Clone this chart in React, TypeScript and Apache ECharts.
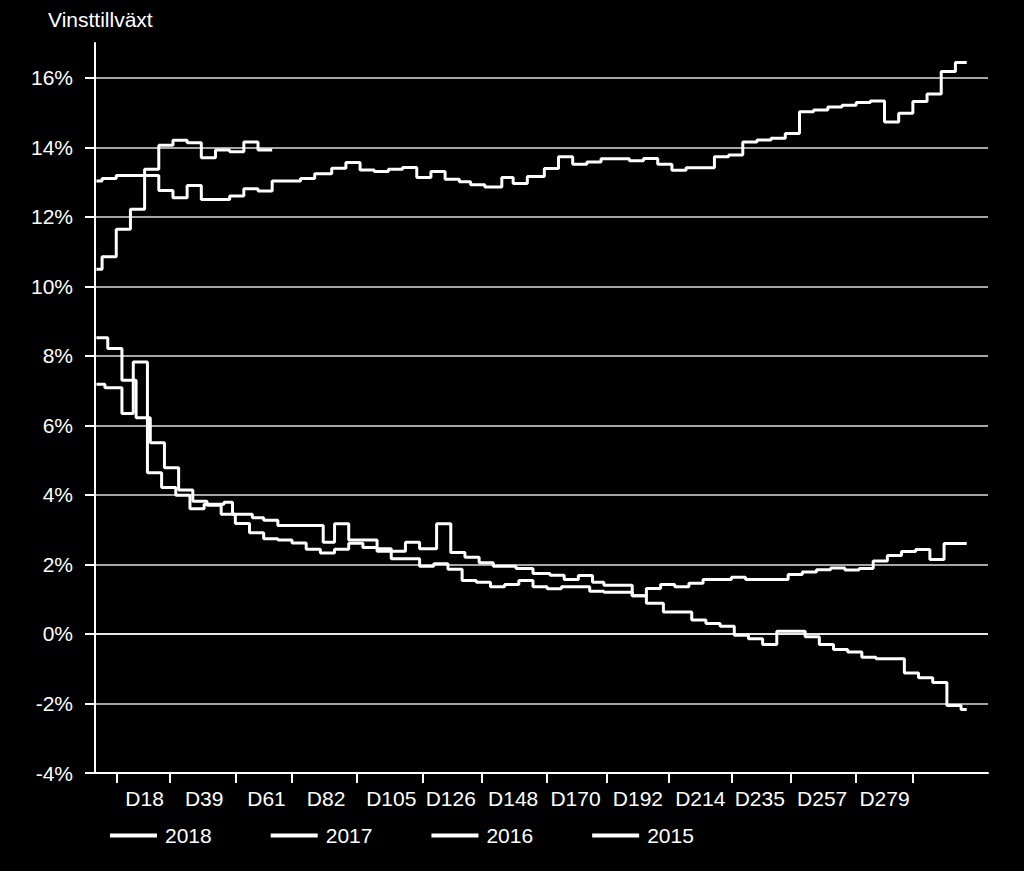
import React, { useEffect, useRef } from "react";
import * as echarts from "echarts";

const FONT = "'Liberation Sans', Arial, sans-serif";

// Category axis: trading days D1..D315
const categories: string[] = Array.from({ length: 315 }, (_, i) => `D${i + 1}`);
// indices of categories whose label is shown (D18, D39, ...)
const labelIndices = [17, 38, 60, 81, 104, 125, 147, 169, 191, 213, 234, 256, 278];
// indices of categories carrying a tick mark
const tickIndices = [7, 26, 49, 69, 92, 115, 136, 159, 180, 202, 224, 245, 268, 288];
const yTicks = [-4, -2, 0, 2, 4, 6, 8, 10, 12, 14, 16];

const legendNames = ["2018", "2017", "2016", "2015"];

// [day index, value %] at each change point (step data)
const s2018: [number, number][] = [
  [0, 10.49], [2, 10.85], [7, 11.64], [12, 12.22], [17, 13.37], [22, 14.06], [27, 14.2],
  [32, 14.13], [37, 13.7], [42, 13.92], [47, 13.87], [52, 14.15], [57, 13.92], [62, 13.92],
];

const s2017: [number, number][] = [
  [0, 13.03], [2, 13.1], [7, 13.19], [22, 12.76], [27, 12.55], [32, 12.9], [37, 12.5],
  [47, 12.6], [52, 12.81], [57, 12.74], [62, 13.03], [72, 13.1], [77, 13.24], [83, 13.4],
  [88, 13.56], [93, 13.35], [98, 13.3], [103, 13.37], [108, 13.42], [113, 13.13], [118, 13.3],
  [123, 13.08], [128, 13.01], [132, 12.92], [137, 12.86], [143, 13.13], [147, 12.96],
  [152, 13.16], [158, 13.39], [163, 13.73], [168, 13.51], [173, 13.58], [178, 13.67],
  [188, 13.61], [193, 13.68], [198, 13.51], [203, 13.34], [208, 13.41], [218, 13.73],
  [223, 13.78], [228, 14.15], [233, 14.21], [238, 14.26], [243, 14.4], [248, 15.02],
  [253, 15.07], [258, 15.16], [263, 15.21], [268, 15.29], [273, 15.33], [278, 14.73],
  [283, 14.98], [288, 15.32], [293, 15.53], [298, 16.18], [303, 16.44], [307, 16.44],
];

const s2016: [number, number][] = [
  [0, 8.52], [4, 8.21], [9, 7.3], [14, 6.22], [19, 5.5], [24, 4.78], [29, 4.14], [34, 3.82],
  [39, 3.7], [44, 3.44], [49, 3.18], [54, 2.91], [59, 2.74], [64, 2.7], [69, 2.62], [74, 2.44],
  [79, 2.33], [84, 2.44], [89, 2.61], [94, 2.49], [99, 2.38], [104, 2.16], [114, 1.95],
  [119, 2.02], [124, 1.86], [129, 1.54], [134, 1.49], [139, 1.36], [144, 1.42], [149, 1.54],
  [154, 1.36], [159, 1.3], [164, 1.36], [174, 1.23], [179, 1.2], [189, 1.1], [194, 1.31],
  [199, 1.42], [204, 1.36], [209, 1.46], [214, 1.57], [224, 1.63], [229, 1.57], [244, 1.71],
  [249, 1.78], [254, 1.85], [259, 1.9], [264, 1.84], [269, 1.88], [274, 2.1], [279, 2.26],
  [284, 2.37], [289, 2.43], [294, 2.14], [299, 2.6], [307, 2.6],
];

const s2015: [number, number][] = [
  [0, 7.18], [3, 7.08], [9, 6.34], [13, 7.82], [18, 4.64], [23, 4.21], [28, 3.99], [33, 3.6],
  [38, 3.73], [45, 3.79], [48, 3.44], [55, 3.34], [59, 3.27], [64, 3.12], [80, 2.64],
  [84, 3.17], [89, 2.7], [99, 2.45], [104, 2.38], [109, 2.64], [114, 2.45], [120, 3.17],
  [125, 2.34], [130, 2.21], [135, 2.05], [140, 1.95], [148, 1.88], [154, 1.74], [160, 1.69],
  [165, 1.57], [170, 1.68], [175, 1.49], [179, 1.4], [189, 1.1], [194, 0.88], [200, 0.63],
  [210, 0.4], [215, 0.3], [220, 0.22], [225, -0.04], [230, -0.14], [235, -0.3], [240, 0.08],
  [250, -0.08], [255, -0.3], [260, -0.45], [265, -0.52], [270, -0.67], [275, -0.71],
  [285, -1.12], [290, -1.26], [295, -1.4], [300, -2.06], [305, -2.17], [307, -2.17],
];

const seriesData = [s2018, s2017, s2016, s2015];

const GRID = "#a6a6a6";

export default function App() {
  const ref = useRef<HTMLDivElement>(null);

  useEffect(() => {
    if (!ref.current) return;
    const chart = echarts.init(ref.current, undefined, { renderer: "svg" });
    chart.setOption({
      animation: false,
      backgroundColor: "#000000",
      graphic: [
        {
          type: "text",
          left: 48,
          top: 9,
          style: { text: "Vinsttillväxt", fill: "#ffffff", fontSize: 21, fontFamily: FONT },
        },
      ],
      grid: { left: 95, right: 36, top: 43, bottom: 98, containLabel: false },
      legend: {
        data: legendNames,
        left: 110,
        top: 825,
        padding: 0,
        icon: "rect",
        itemWidth: 47,
        itemHeight: 4,
        itemGap: 59,
        textStyle: { color: "#ffffff", fontSize: 21, fontFamily: FONT, padding: [0, 0, 0, 3] },
      },
      xAxis: {
        type: "category",
        data: categories,
        boundaryGap: true,
        axisLine: { show: true, onZero: false, lineStyle: { color: "#ffffff", width: 2 } },
        axisTick: {
          show: true,
          alignWithLabel: true,
          length: 10,
          interval: (index: number) => tickIndices.includes(index),
          lineStyle: { color: "#ffffff", width: 2 },
        },
        axisLabel: {
          color: "#ffffff",
          fontSize: 21,
          fontFamily: FONT,
          margin: 15,
          interval: (index: number) => labelIndices.includes(index),
        },
        splitLine: { show: false },
      },
      yAxis: {
        type: "value",
        min: -4,
        max: 17,
        interval: 2,
        axisLine: { show: true, lineStyle: { color: "#ffffff", width: 2 } },
        axisTick: {
          show: true,
          length: 10,
          customValues: yTicks,
          lineStyle: { color: "#ffffff", width: 2 },
        },
        axisLabel: {
          color: "#ffffff",
          fontSize: 21,
          fontFamily: FONT,
          margin: 22,
          customValues: yTicks,
          formatter: (v: number) => (v > 16 ? "" : `${v}%`),
        },
        splitLine: {
          show: true,
          lineStyle: {
            color: [GRID, GRID, "#e6e6e6", GRID, GRID, GRID, GRID, GRID, GRID, GRID, GRID, GRID],
            width: 2,
          },
        },
      },
      series: legendNames.map((name, i) => ({
        name,
        type: "line",
        step: "end",
        showSymbol: false,
        symbol: "none",
        data: seriesData[i],
        lineStyle: { color: "#ffffff", width: 3 },
        itemStyle: { color: "#ffffff" },
        emphasis: { disabled: true },
      })),
    });
    return () => chart.dispose();
  }, []);

  return (
    <div
      ref={ref}
      style={{ position: "fixed", left: 0, top: 0, width: 1024, height: 871, background: "#000" }}
    />
  );
}
